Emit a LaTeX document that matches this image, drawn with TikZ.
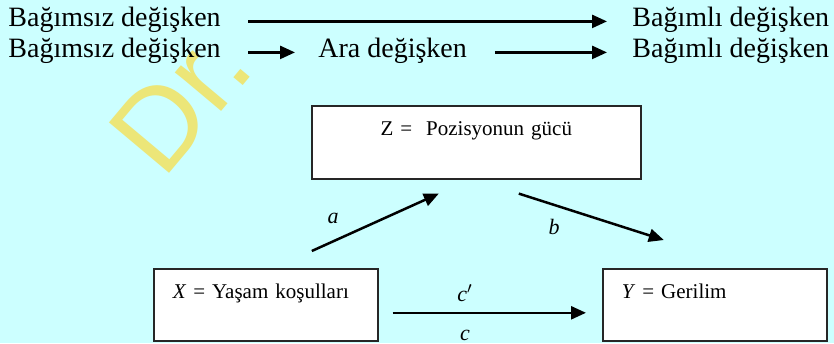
\documentclass[tikz,border=0pt]{standalone}
\usepackage{fontspec}
\setmainfont{Liberation Serif}
\newfontfamily\wmfont{Liberation Sans}
\usetikzlibrary{calc,arrows.meta}
\definecolor{bgcyan}{RGB}{204,255,255}
\definecolor{wmyellow}{RGB}{236,230,120}
\tikzset{
  varlabel/.style={anchor=base west,inner sep=0pt,font=\fontsize{14}{16}\selectfont},
  varbox/.style={draw=black!85,fill=white,line width=0.8pt,anchor=north west,
    inner xsep=9.5pt,inner ysep=0pt,text height=15pt,text depth=21pt,
    font=\fontsize{10.5}{12}\selectfont},
  arr/.style={line width=1.25pt,-{Triangle[length=7.5pt,width=6.5pt]}},
  coef/.style={font=\fontsize{11}{12}\selectfont\itshape}
}

\begin{document}
\begin{tikzpicture}[x=0.5pt,y=-0.5pt]
  \useasboundingbox[fill=bgcyan] (0,0) rectangle (834,343);

  % watermark
  \begin{scope}
    \clip (0,0) rectangle (834,343);
    \node[rotate=50,anchor=base west,inner sep=0pt,text=wmyellow,
      font=\wmfont\fontsize{57}{62}\selectfont] (wm) at (163,181) {Dr.};
  \end{scope}

  % simple and mediated chains
  \node[varlabel] (iv1) at (8,26) {Bağımsız değişken};
  \node[varlabel] (dv1) at (632,26) {Bağımlı değişken};
  \node[varlabel] (iv2) at (8,57) {Bağımsız değişken};
  \node[varlabel] (med) at (318,57) {Ara değişken};
  \node[varlabel] (dv2) at (632,57) {Bağımlı değişken};

  \draw[arr,shorten <=13.5pt,shorten >=12.5pt] (iv1.mid east) -- (dv1.mid west);
  \draw[arr,shorten <=13.5pt,shorten >=11.5pt] (iv2.mid east) -- (med.mid west);
  \draw[arr,shorten <=13.75pt,shorten >=12.5pt] (med.mid east) -- (dv2.mid west);

  % mediation model
  \node[varbox,text width=145.5pt,align=center,text depth=21.5pt] (Z) at (311,105)
    {Z =~ Pozisyonun gücü};
  \node[varbox,text width=93pt,align=left] (X) at (153,268)
    {\textit{X} = Yaşam koşulları};
  \node[varbox,text width=93pt,align=left] (Y) at (602,268)
    {\textit{Y} = Gerilim};

  \draw[arr] ($(X.north)+(46,-17)$) -- ($(Z.south)+(-37.5,14)$);
  \draw[arr] ($(Z.south)+(42.5,14)$) -- ($(Y.north)+(-51,-28)$);
  \draw[arr] ($(X.east)+(14,8)$) -- ($(Y.west)+(-16,8)$);

  \node[coef] (la) at (333,218) {a};
  \node[coef] (lb) at (554,227) {b};
  \node[coef] (lc1) at (465,293) {c$'$};
  \node[coef] (lc) at (465,335) {c};
\end{tikzpicture}
\end{document}
